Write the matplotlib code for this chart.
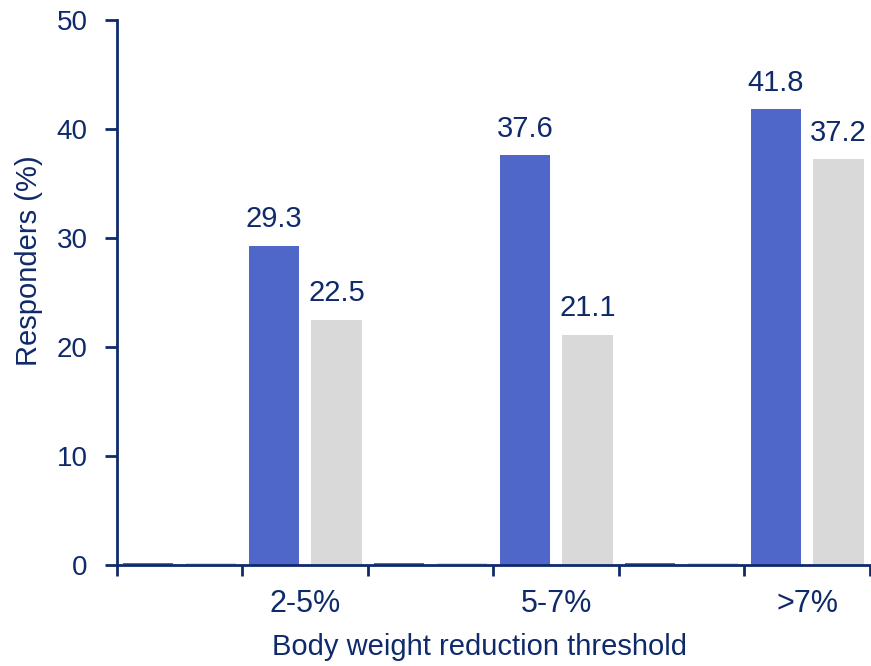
import matplotlib
matplotlib.use("Agg")
import matplotlib.pyplot as plt
import numpy as np

plt.rcParams['font.family'] = ['Liberation Sans', 'DejaVu Sans']

# Six slots on the category axis; only every second one is labelled
categories = ["", "2-5%", "", "5-7%", "", ">7%"]
treatment = [0.2, 29.3, 0.2, 37.6, 0.2, 41.8]
comparator = [0.15, 22.5, 0.15, 21.1, 0.15, 37.2]
shown_labels = [False, True, False, True, False, True]
y_ticks = [0, 10, 20, 30, 40, 50]

navy = "#0F2A6B"
blue = "#4F67C9"
grey = "#D9D9D9"

fig = plt.figure(figsize=(8.71, 6.66), dpi=100)
ax = fig.add_axes([0.1343, 0.1517, 0.8645, 0.8183])

x = np.arange(len(categories))
width = 0.4
b1 = ax.bar(x - 0.25, treatment, width, color=blue)
b2 = ax.bar(x + 0.25, comparator, width, color=grey)

for bars, vals in ((b1, treatment), (b2, comparator)):
    for rect, v, show in zip(bars, vals, shown_labels):
        if show:
            ax.annotate(f"{v:.1f}", (rect.get_x() + rect.get_width() / 2, v),
                        xytext=(0, 9), textcoords="offset points",
                        ha="center", va="bottom", fontsize=21, color=navy)

ax.set_xlim(-0.5, len(categories) - 0.5)
ax.set_ylim(0, 50)
ax.set_yticks(y_ticks)

# Tick marks at the slot boundaries, labels centred in each slot
ax.set_xticks(np.arange(len(categories) + 1) - 0.5)
ax.set_xticklabels([])
ax.set_xticks(x, minor=True)
ax.set_xticklabels(categories, minor=True)
ax.tick_params(axis="x", which="minor", length=0, pad=17, labelsize=22, labelcolor=navy)
ax.tick_params(axis="x", which="major", length=8, width=2, color=navy, direction="out")
ax.tick_params(axis="y", length=9, width=2, color=navy, direction="out",
               labelsize=20, labelcolor=navy, pad=12)

for side in ("top", "right"):
    ax.spines[side].set_visible(False)
for side in ("left", "bottom"):
    ax.spines[side].set_color(navy)
    ax.spines[side].set_linewidth(2)

ax.set_ylabel("Responders (%)", fontsize=21, color=navy)
ax.yaxis.set_label_coords(-0.098, 0.558)
ax.set_xlabel("Body weight reduction threshold", fontsize=21, color=navy, labelpad=14)
ax.xaxis.set_label_coords(0.481, -0.125)
ax.xaxis.label.set_va("top")

fig.savefig("out.png", dpi=100)
